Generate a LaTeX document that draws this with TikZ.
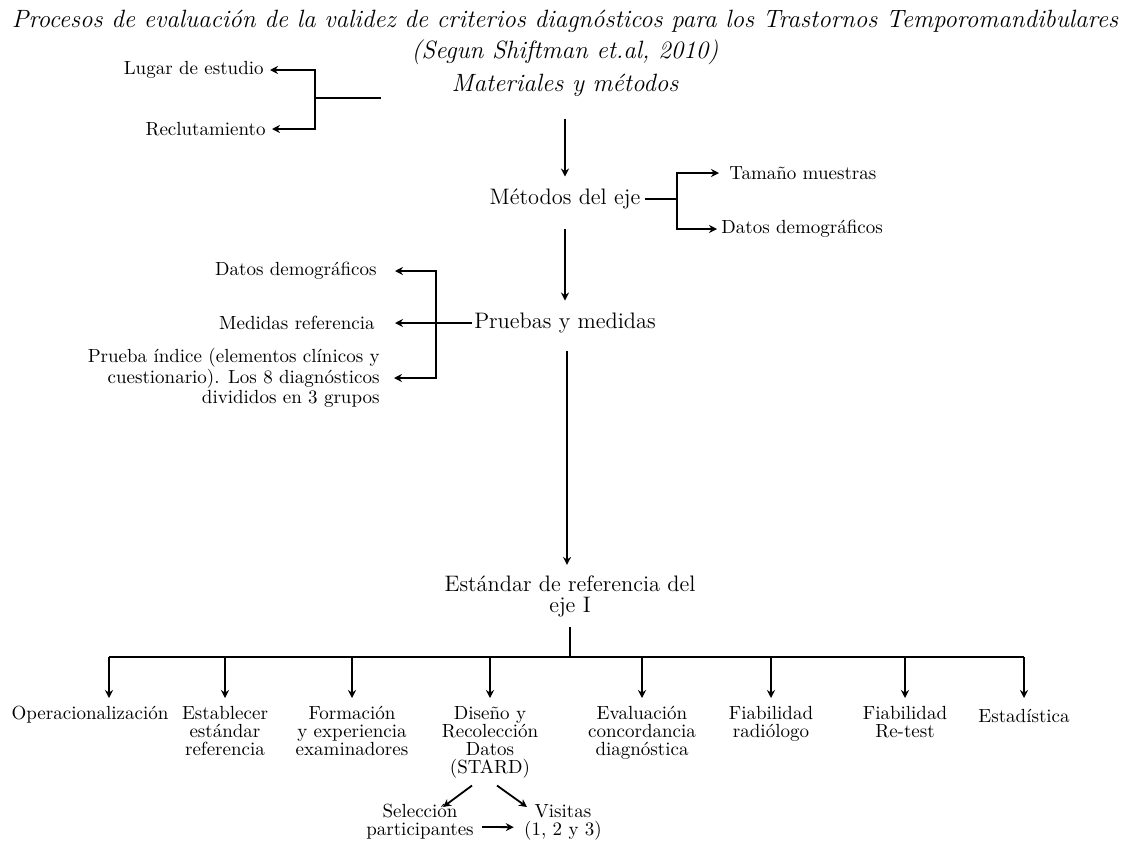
\documentclass[tikz,border=0pt]{standalone}
\usetikzlibrary{arrows.meta,positioning}

\begin{document}
\begin{tikzpicture}[x=0.5pt,y=-0.5pt]
\tikzset{
  titletext/.style={font=\fontsize{12.5}{15.5}\selectfont\itshape,inner sep=1pt,align=center},
  mainnode/.style={font=\fontsize{11.2}{10.5}\selectfont,inner sep=1pt,align=center},
  sidenode/.style={font=\fontsize{9.5}{8.5}\selectfont,inner sep=1pt},
  leafnode/.style={font=\fontsize{9.5}{9}\selectfont,inner sep=1pt,align=center,anchor=north},
  directed/.style={-{Stealth[length=4pt,width=4pt]},line width=0.9pt},
  undirected/.style={line width=0.9pt}
}
\useasboundingbox (0,0) rectangle (1131,841);
% title and main column
\node[titletext] (n_title) at (565,37) {Procesos de evaluación de la validez de criterios diagnósticos para los Trastornos Temporomandibulares\\(Segun Shiftman et.al, 2010)};
\node[titletext] (n_mat) at (565,85) {Materiales y métodos};
\node[mainnode] (n_met) at (565,199) {Métodos del eje};
\node[mainnode] (n_pru) at (565,323) {Pruebas y medidas};
\node[mainnode] (n_est) at (570,596) {Estándar de referencia del\\eje I};
% side nodes
\node[sidenode,anchor=east] (n_lug) at (266,70) {Lugar de estudio};
\node[sidenode,anchor=east] (n_rec) at (268,129) {Reclutamiento};
\node[sidenode,anchor=west] (n_tam) at (727,173) {Tamaño muestras};
\node[sidenode,anchor=west] (n_mdat) at (719,229) {Datos demográficos};
\node[sidenode,anchor=east] (n_pdat) at (379,271) {Datos demográficos};
\node[sidenode,anchor=east] (n_med) at (377,323) {Medidas referencia};
\node[sidenode,anchor=east,align=right] (n_ind) at (382,378) {Prueba índice (elementos clínicos y\\cuestionario). Los 8 diagnósticos\\divididos en 3 grupos};
% leaves
\node[leafnode] (n_oper) at (90,704) {Operacionalización};
\node[leafnode] (n_estab) at (225,704) {Establecer\\estándar\\referencia};
\node[leafnode] (n_form) at (352,704) {Formación\\y experiencia\\examinadores};
\node[leafnode] (n_dis) at (490,704) {Diseño y\\Recolección\\Datos\\(STARD)};
\node[leafnode] (n_eval) at (642,704) {Evaluación\\concordancia\\diagnóstica};
\node[leafnode] (n_frad) at (771,704) {Fiabilidad\\radiólogo};
\node[leafnode] (n_fret) at (905,704) {Fiabilidad\\Re-test};
\node[leafnode] (n_stat) at (1024,707) {Estadística};
\node[leafnode] (n_sel) at (420,802) {Selección\\participantes};
\node[leafnode] (n_vis) at (563,802) {Visitas\\(1, 2 y 3)};
% junctions
\coordinate (c_mat) at (381,98);
\coordinate (j_mat) at (315,98);
\coordinate (j_met) at (677,199);
\coordinate (j_pru) at (436,323);
\coordinate (j_bar) at (570,657);
\coordinate (bar_l) at (109,657);
\coordinate (bar_r) at (1024,657);
% connectors
\draw[undirected] (c_mat) -- (j_mat);
\draw[directed,shorten >=2pt] (j_mat) |- (n_lug);
\draw[directed,shorten >=2pt] (j_mat) |- (n_rec);
\draw[directed,shorten <=10pt,shorten >=5pt] (n_mat) -- (n_met);
\draw[undirected,shorten <=1pt] (n_met) -- (j_met);
\draw[directed,shorten >=4pt] (j_met) |- (n_tam);
\draw[directed,shorten >=1pt] (j_met) |- (n_mdat);
\draw[directed,shorten <=9pt,shorten >=5pt] (n_met) -- (n_pru);
\draw[undirected] (n_pru) -- (j_pru);
\draw[directed,shorten >=8pt] (j_pru) |- (n_pdat);
\draw[directed,shorten >=9pt] (j_pru) -- (n_med);
\draw[directed,shorten >=6pt] (j_pru) |- (n_ind);
\draw[directed,shorten <=8pt,shorten >=4pt] ([xshift=1pt]n_pru.south) -- ([xshift=-1.5pt]n_est.north);
\draw[undirected,shorten <=4pt] (n_est) -- (j_bar);
\draw[undirected] (bar_l) -- (bar_r);
\draw[directed,shorten >=3pt] (bar_l) -- (bar_l |- n_oper.north);
\draw[directed,shorten >=3pt] (n_estab.north |- j_bar) -- (n_estab.north);
\draw[directed,shorten >=3pt] (n_form.north |- j_bar) -- (n_form.north);
\draw[directed,shorten >=3pt] (n_dis.north |- j_bar) -- (n_dis.north);
\draw[directed,shorten >=3pt] (n_eval.north |- j_bar) -- (n_eval.north);
\draw[directed,shorten >=3pt] (n_frad.north |- j_bar) -- (n_frad.north);
\draw[directed,shorten >=3pt] (n_fret.north |- j_bar) -- (n_fret.north);
\draw[directed,shorten >=4.5pt] (n_stat.north |- j_bar) -- (n_stat.north);
\draw[directed] ([shift={(-18,5)}]n_dis.south) -- ([shift={(23,5)}]n_sel.north);
\draw[directed] ([shift={(7,5)}]n_dis.south) -- ([shift={(-36,5)}]n_vis.north);
\draw[directed,shorten >=4pt] ([xshift=3pt,yshift=-2.5pt]n_sel.east) -- ([yshift=-2.5pt]n_vis.west);
\end{tikzpicture}
\end{document}
